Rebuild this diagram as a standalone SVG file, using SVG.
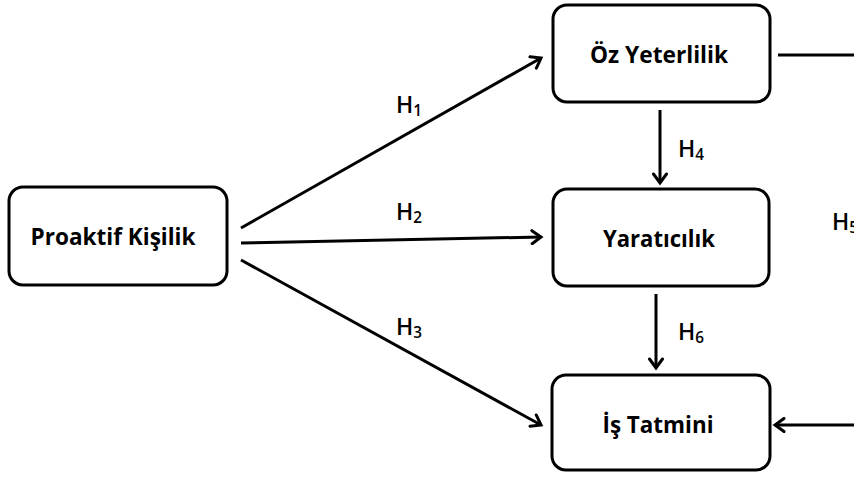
<svg xmlns="http://www.w3.org/2000/svg" width="854" height="478" viewBox="0 0 854 478">
<defs>
<marker id="arr" markerWidth="14" markerHeight="16" refX="11" refY="8" orient="auto" markerUnits="userSpaceOnUse">
<path d="M2,1.5 L11,8 L2,14.5" fill="none" stroke="#000" stroke-width="3" stroke-linecap="round" stroke-linejoin="miter"/>
</marker>
<style>
.box{fill:#fff;stroke:#000;stroke-width:3}
.lbl{font-family:"Open Sans","Liberation Sans",sans-serif;font-weight:bold;font-size:24px;fill:#000;text-anchor:middle}
.h{font-family:"Open Sans","Liberation Sans",sans-serif;font-size:24px;font-weight:600;fill:#000}
.sub{font-size:16px}
.ln{stroke:#000;stroke-width:3;fill:none}
</style>
</defs>
<rect width="854" height="478" fill="#fff"/>
<g id="connectors">
<line class="ln" x1="241" y1="228" x2="541" y2="58" marker-end="url(#arr)"/>
<line class="ln" x1="241" y1="243" x2="541" y2="237" marker-end="url(#arr)"/>
<line class="ln" x1="241" y1="260" x2="541" y2="425" marker-end="url(#arr)"/>
<line class="ln" x1="660" y1="110" x2="660" y2="183" marker-end="url(#arr)"/>
<line class="ln" x1="656" y1="294" x2="656" y2="368" marker-end="url(#arr)"/>
<line class="ln" x1="778" y1="55" x2="856" y2="55"/>
<line class="ln" x1="856" y1="425" x2="775" y2="425" marker-end="url(#arr)"/>
<text class="h" x="396" y="113" textLength="26" lengthAdjust="spacingAndGlyphs">H<tspan class="sub" dy="3">1</tspan></text>
<text class="h" x="396" y="220" textLength="26" lengthAdjust="spacingAndGlyphs">H<tspan class="sub" dy="3">2</tspan></text>
<text class="h" x="396" y="335" textLength="26" lengthAdjust="spacingAndGlyphs">H<tspan class="sub" dy="3">3</tspan></text>
<text class="h" x="678" y="157" textLength="26" lengthAdjust="spacingAndGlyphs">H<tspan class="sub" dy="3">4</tspan></text>
<text class="h" x="832" y="230" textLength="26" lengthAdjust="spacingAndGlyphs">H<tspan class="sub" dy="3">5</tspan></text>
<text class="h" x="678" y="340" textLength="26" lengthAdjust="spacingAndGlyphs">H<tspan class="sub" dy="3">6</tspan></text>
</g>
<g id="proaktif">
<rect class="box" x="9" y="187" width="218" height="98" rx="14"/>
<text class="lbl" x="113" y="245" textLength="165" lengthAdjust="spacingAndGlyphs">Proaktif Kişilik</text>
</g>
<g id="ozyeterlilik">
<rect class="box" x="553" y="5" width="217" height="97" rx="14"/>
<text class="lbl" x="659" y="63" textLength="138" lengthAdjust="spacingAndGlyphs">Öz Yeterlilik</text>
</g>
<g id="yaraticilik">
<rect class="box" x="553" y="189" width="216" height="97" rx="14"/>
<text class="lbl" x="659" y="247" textLength="112" lengthAdjust="spacingAndGlyphs">Yaratıcılık</text>
</g>
<g id="istatmini">
<rect class="box" x="552" y="375" width="218" height="95" rx="14"/>
<text class="lbl" x="658" y="433" textLength="111" lengthAdjust="spacingAndGlyphs">İş Tatmini</text>
</g>
</svg>
